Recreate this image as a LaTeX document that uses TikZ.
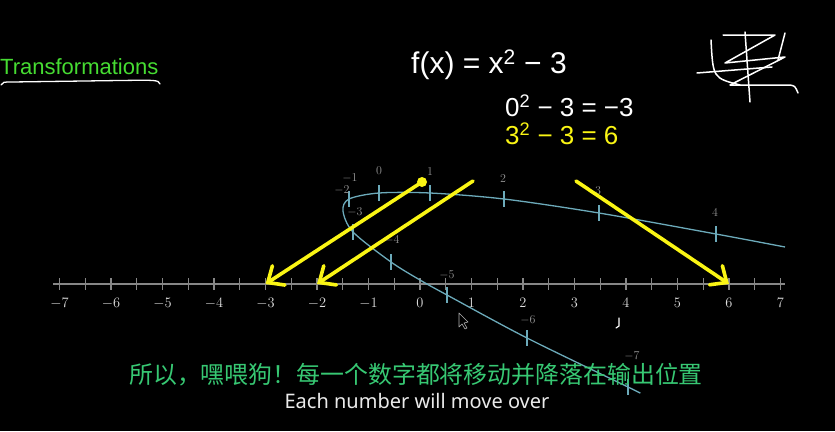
\documentclass[tikz,border=0pt]{standalone}
\usepackage{fontspec}
\usepackage{tikz}
\usetikzlibrary{arrows.meta, calc}
\newfontfamily\cjkfont{Noto Sans CJK SC}
\newfontfamily\subfont{Noto Sans}
\newfontfamily\handfont{Liberation Sans}
\definecolor{curveblue}{RGB}{108,170,186}
\definecolor{axisgray}{RGB}{135,135,135}
\definecolor{titlegreen}{RGB}{70,220,50}
\definecolor{subgreen}{RGB}{55,200,115}
\definecolor{penyellow}{RGB}{250,245,20}
\tikzset{
  axisline/.style={axisgray, line width=1.4pt},
  curveline/.style={curveblue, line width=1.3pt},
  numlabel/.style={text=white!88!black, font=\fontsize{15}{18}\selectfont},
  curvelabel/.style={text=white!58!black, font=\fontsize{13}{15}\selectfont},
  penline/.style={penyellow, line width=3.6pt, line cap=round,
                  -{Straight Barb[length=13pt,width=23pt,line cap=round]}},
  handtext/.style={text=white, font=\handfont\fontsize{30}{34}\selectfont, inner sep=0pt},
  scribble/.style={white, line width=1.5pt, line cap=round, line join=round}
}

\begin{document}
\begin{tikzpicture}[x=1pt, y=-1pt]
\fill[black] (0, 0) rectangle (835, 431);
\useasboundingbox (0, 0) rectangle (835, 431);

% title
\node[anchor=west, inner sep=0pt, text=titlegreen, font=\handfont\fontsize{22}{26}\selectfont]
  (title) at (0, 67) {Transformations};
\draw[white, line width=1.3pt, line cap=round]
  (1, 85) .. controls (3, 82) .. (12, 82) -- (120, 80.5) .. controls (158, 80) .. (160, 84);

% handwritten formula
\node[handtext, anchor=west] (fx) at (411, 65) {f(x) = x\textsuperscript{2} − 3};
\node[handtext, anchor=west, font=\handfont\fontsize{26}{30}\selectfont] (zero) at (505, 106)
  {0\textsuperscript{2} − 3 = −3};
\node[handtext, anchor=west, text=penyellow, font=\handfont\fontsize{26}{30}\selectfont] (three) at (505, 134)
  {3\textsuperscript{2} − 3 = 6};

% scribble
\draw[scribble] (723, 35) -- (775, 35) -- (725, 63) -- (785, 57) -- (730, 85)
  -- (790, 85) .. controls (795, 86) .. (798, 93);
\draw[scribble] (745, 32) -- (750, 102);
\draw[scribble] (697, 73) -- (772, 67);
\draw[scribble] (711, 40) .. controls (713, 78) .. (740, 85);
\draw[scribble] (785, 33) -- (778, 60);

% number line
\draw[axisline] (53, 284) -- (785, 284);
\foreach \k in {-14,...,14} {
  \draw[axisline] ({420 + 25.75*\k}, 278) -- ({420 + 25.75*\k}, 290);
}
\foreach \n in {-7,...,7} {
  \coordinate (n\n) at ({420 + 51.5*\n}, 284);
  \node[numlabel] (lab\n) at ({420 + 51.5*\n}, 303) {$\n$};
}

% transformed line
\draw[curveline] plot[smooth, tension=0.5] coordinates {
  (640, 393) (628, 387) (527, 338) (447, 295) (420, 280) (391, 262) (353, 232)
  (343, 211) (349, 199) (379, 193) (430, 193) (504, 199) (599, 213)
  (716, 234) (785, 247)};
\foreach \x/\y in {628/387, 527/338, 447/295, 391/262, 353/232, 349/199,
                   379/193, 430/193, 504/199, 599/213, 716/234} {
  \draw[curveline] (\x, {\y-8}) -- (\x, {\y+8});
}
\foreach \t/\x/\y in {-7/632/356, -6/528/320, -5/447/275, -4/392/240, -3/355/212,
                      -2/342/190, -1/350/178, 0/379/171, 1/430/172, 2/503/179,
                      3/598/191, 4/715/213} {
  \node[curvelabel] at (\x, \y) {$\t$};
}

% cursor and pen mark
\draw[white!70!black, fill=black, line width=0.6pt, line join=round]
  (459, 313) -- (459, 327) -- (462, 324) -- (465, 329) -- (467, 328)
  -- (464, 323) -- (468, 322) -- cycle;
\draw[white, line width=1.2pt, line cap=round] (619, 318) -- (619, 326) -- (616, 328);

% yellow arrows
\coordinate (s1) at (422, 182);
\coordinate (s2) at (473, 181);
\coordinate (s3) at (576, 181);
\fill[penyellow] (s1) circle (5);
\draw[penline] (s1) -- (n-3);
\draw[penline] (s2) -- (n-2);
\draw[penline] (s3) -- (n6);

% subtitles
\node[text=subgreen, font=\cjkfont\fontsize{23.9}{28}\selectfont, inner sep=0pt] (subcn) at (416, 375)
  {所以，嘿喂狗！每一个数字都将移动并降落在输出位置};
\node[text=white!92!black, font=\subfont\fontsize{20}{24}\selectfont, inner sep=0pt] (suben) at (417, 401)
  {Each number will move over};
\end{tikzpicture}
\end{document}
